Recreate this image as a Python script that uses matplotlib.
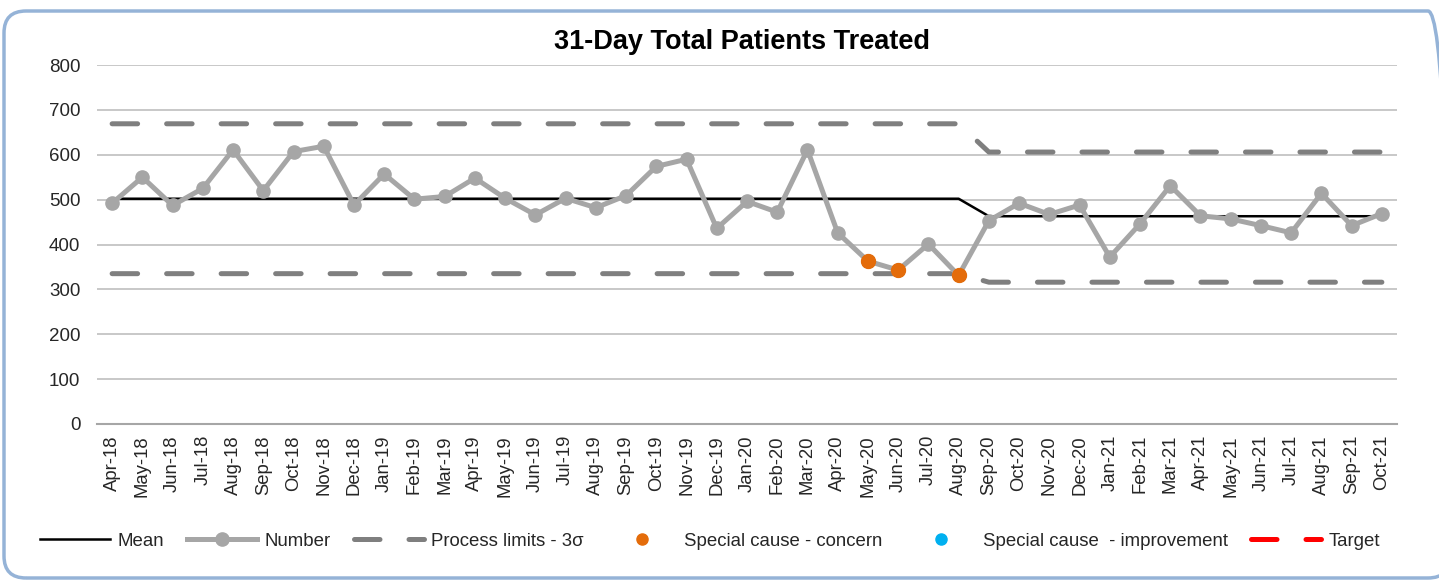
import numpy as np
import pandas as pd
import matplotlib
matplotlib.use('Agg')
import matplotlib.pyplot as plt
from matplotlib.patches import FancyBboxPatch
from matplotlib.transforms import IdentityTransform

plt.rcParams['font.family'] = ['Liberation Sans', 'DejaVu Sans']

# monthly SPC data, Apr-18 .. Oct-21
months = pd.date_range('2018-04-01', periods=43, freq='MS').strftime('%b-%y').tolist()

number = [492, 550, 487, 525, 611, 520, 607, 619, 488,
          557, 501, 507, 548, 503, 466, 503, 482, 509, 574, 590, 436,
          496, 472, 611, 426, 363, 343, 401, 331, 453, 492, 467, 488,
          372, 446, 531, 464, 457, 442, 426, 514, 442, 469]

# two phases: before / after the recalculation at Sep-20
phase_len = [29, 14]
mean_vals = [502, 463]
ucl_vals = [669, 606]
lcl_vals = [335, 316]

concern_months = ['May-20', 'Jun-20', 'Aug-20']
improvement_months = []
target = []

mean = np.repeat(mean_vals, phase_len)
ucl = np.repeat(ucl_vals, phase_len)
lcl = np.repeat(lcl_vals, phase_len)
x = np.arange(len(months))

concern = np.array([v if m in concern_months else np.nan for m, v in zip(months, number)], dtype=float)
improve = np.array([v if m in improvement_months else np.nan for m, v in zip(months, number)], dtype=float)

fig = plt.figure(figsize=(14.39, 5.82), dpi=100)
ax = fig.add_axes([97 / 1439, 1 - 424 / 582, 1300 / 1439, 359 / 582])

dash = (5.1, 5.8)
ax.plot(x, ucl, color='#7f7f7f', lw=3.6, dashes=dash, dash_capstyle='round',
        label='Process limits - 3\u03c3', zorder=2)
ax.plot(x, lcl, color='#7f7f7f', lw=3.6, dashes=dash, dash_capstyle='round', zorder=2)
ax.plot(x, mean, color='black', lw=1.8, label='Mean', zorder=3)
ax.plot(x, number, color='#a6a6a6', lw=3.6, marker='o', markersize=9.5,
        label='Number', zorder=4)
ax.plot(x, concern, ls='none', marker='o', markersize=10, color='#e46c0a',
        label='Special cause - concern', zorder=5)
ax.plot(x, improve, ls='none', marker='o', markersize=10, color='#00b0f0',
        label='Special cause  - improvement', zorder=5)
ax.plot(x[:len(target)], target, color='#ff0000', lw=3.6, dashes=dash,
        dash_capstyle='round', label='Target', zorder=2)

ax.set_xlim(-0.5, len(months) - 0.5)
ax.set_ylim(0, 800)
ax.set_yticks(range(0, 801, 100))
ax.set_xticks(x)
ax.set_xticklabels(months, rotation=90, fontsize=13.3, color='#262626')
ax.tick_params(axis='y', length=0, pad=12, labelsize=13.5, labelcolor='#262626')
ax.tick_params(axis='x', length=0, pad=8)
ax.grid(axis='y', color='#c8c8c8', lw=1.4)
ax.set_axisbelow(True)
for s in ['top', 'right', 'left']:
    ax.spines[s].set_visible(False)
ax.spines['bottom'].set_color('#a6a6a6')
ax.spines['bottom'].set_linewidth(1.5)

fig.text(742 / 1439, 1 - 42 / 582, '31-Day Total Patients Treated',
         ha='center', va='center', fontsize=19.5, fontweight='bold')

handles, labels = ax.get_legend_handles_labels()
order = ['Mean', 'Number', 'Process limits - 3\u03c3', 'Special cause - concern',
         'Special cause  - improvement', 'Target']
hmap = dict(zip(labels, handles))
leg = fig.legend([hmap[k] for k in order], order, loc='center', ncol=6,
                 bbox_to_anchor=(710 / 1439, 1 - 541 / 582), frameon=False,
                 fontsize=13.4, handlelength=3.75, handletextpad=0.4,
                 columnspacing=1.25, numpoints=1, labelcolor='#262626')
for h in leg.legend_handles[3:5]:
    h.set_markersize(8)

# rounded border around the chart
border = FancyBboxPatch((4, 4), 1446, 567, boxstyle='round,pad=0,rounding_size=22',
                        transform=IdentityTransform(), fill=False,
                        edgecolor='#95b3d7', lw=2.5)
fig.patches.append(border)

fig.savefig('out.png', dpi=100)
